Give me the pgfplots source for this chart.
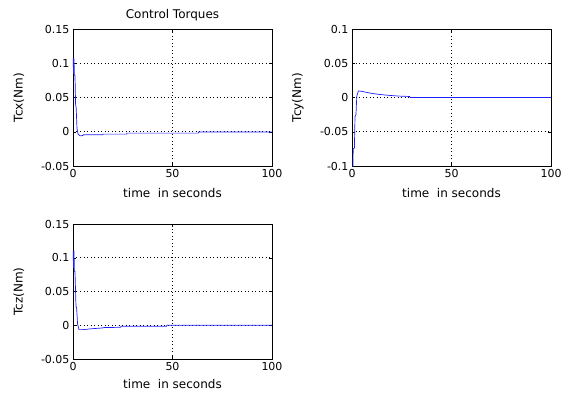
\documentclass[border=0pt]{standalone}
\usepackage{fontspec}
\setmainfont{DejaVu Sans}
\usepackage{pgfplots}
\pgfplotsset{compat=1.18}
\definecolor{mblue}{RGB}{30,30,255}
\begin{document}
\begin{tikzpicture}
\pgfplotsset{
 every axis/.append style={
  scale only axis, width=199pt, height=137pt,
  anchor=south west,
  xmin=0,xmax=100, xtick={0,50,100}, xticklabels={0,50,100},
  tick align=inside, major tick length=3pt,
  grid=major, major grid style={dash pattern=on 0.9pt off 2.6pt, black, line width=0.7pt},
  axis line style={black, line width=0.6pt}, tick style={black, line width=0.5pt},
  tick label style={font=\fontsize{11}{13}\selectfont},
  title style={font=\fontsize{12}{14}\selectfont, at={(axis description cs:0.5,1)}, anchor=center, yshift=8pt},
  xlabel={time\ \ in seconds},
  xlabel style={font=\fontsize{12}{14}\selectfont, at={(axis description cs:0.5,0)}, anchor=center, yshift=-27pt},
  every axis y label/.style={font=\fontsize{12}{14}\selectfont, at={(axis description cs:-0.272,0.5)}, anchor=center, rotate=90},
 }
}
% Tcx
\begin{axis}[at={(73pt,231pt)}, title={Control Torques}, ylabel={Tcx(Nm)},
  ymin=-0.05,ymax=0.15, ytick={-0.05,0,0.05,0.1,0.15}, yticklabels={-0.05,0,0.05,0.1,0.15}]
\addplot[mblue, line width=0.7pt] coordinates {
(0,0.108)(0.3,0.085)(0.5,0.107)(0.7,0.083)(1.0,0.082)(1.3,0.04)(1.6,0.035)(2,0.005)(2.5,-0.003)(3.5,-0.006)(5,-0.0055)(5.1,-0.0045)(15,-0.0045)(15.1,-0.0035)(27,-0.0035)(27.1,-0.002)(63,-0.002)(63.1,-0.0005)(100,-0.0005)};
\end{axis}
% Tcy
\begin{axis}[at={(352pt,231pt)}, ylabel={Tcy(Nm)},
  ymin=-0.1,ymax=0.1, ytick={-0.1,-0.05,0,0.05,0.1}, yticklabels={-0.1,-0.05,0,0.05,0.1}]
\addplot[mblue, line width=0.7pt] coordinates {
(0,-0.12)(0.5,-0.1)(0.6,-0.075)(1.2,-0.074)(1.5,-0.028)(2.0,-0.025)(2.4,0.002)(3.2,0.0095)(5,0.009)(8,0.007)(11,0.0055)(14,0.0044)(19,0.003)(24,0.002)(29,0.0015)(29.1,0)(100,0)};
\end{axis}
% Tcz
\begin{axis}[at={(73pt,38pt)}, height=135pt, ylabel={Tcz(Nm)},
  xlabel style={yshift=2pt},
  ymin=-0.05,ymax=0.15, ytick={-0.05,0,0.05,0.1,0.15}, yticklabels={-0.05,0,0.05,0.1,0.15}]
\addplot[mblue, line width=0.7pt] coordinates {
(0,0.11)(0.3,0.085)(0.5,0.11)(0.7,0.08)(1.0,0.08)(1.5,0.028)(1.8,0.026)(2.3,0.002)(3,-0.0065)(5,-0.0065)(10,-0.005)(15,-0.004)(15.1,-0.0035)(24,-0.003)(24.1,-0.0015)(47,-0.0015)(47.1,0)(100,0)};
\end{axis}
\path[use as bounding box] (0pt,0pt) rectangle (567pt,397pt);
\end{tikzpicture}
\end{document}
